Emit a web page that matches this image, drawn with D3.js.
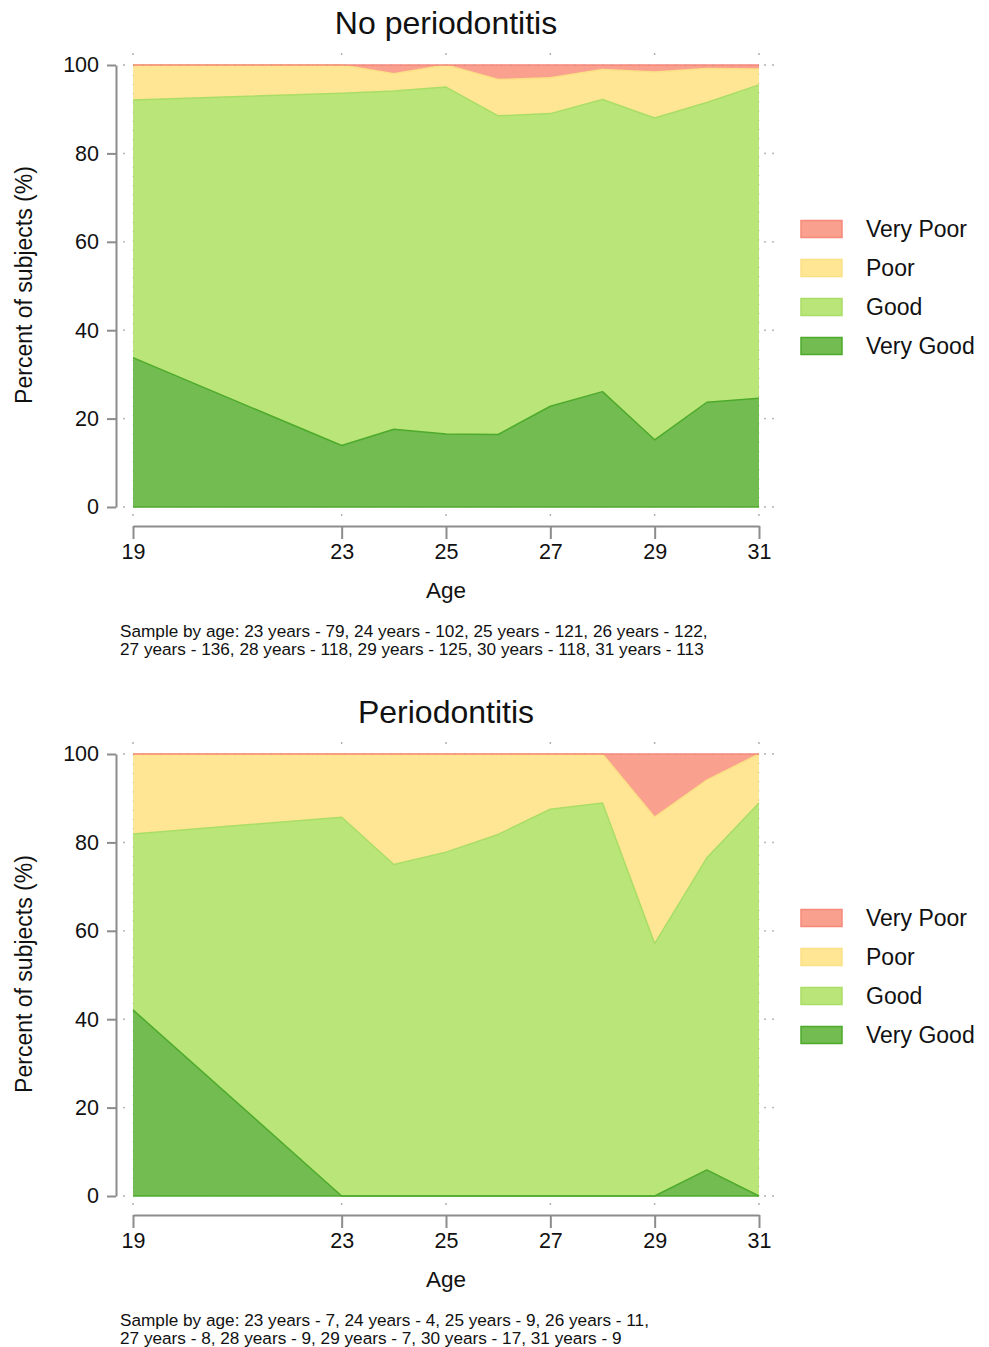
<!DOCTYPE html>
<html>
<head>
<meta charset="utf-8">
<script src="https://cdn.jsdelivr.net/npm/d3@7"></script>
<style>
  html, body { margin: 0; padding: 0; background: #fff; }
  svg { display: block; font-family: "Liberation Sans", Arial, Helvetica, sans-serif; }
</style>
</head>
<body>
<svg id="chart" width="989" height="1347"></svg>
<script>
// Self-rated oral health by age, percent of subjects in each category
const ages = [19, 23, 24, 25, 26, 27, 28, 29, 30, 31];
const ageTicks = [19, 23, 25, 27, 29, 31];
const pctTicks = [0, 20, 40, 60, 80, 100];
const categories = ["Very Good", "Good", "Poor", "Very Poor"];
const legendOrder = ["Very Poor", "Poor", "Good", "Very Good"];

// No periodontitis
const noPerioVeryGood = [33.8, 13.9, 17.6, 16.5, 16.4, 22.8, 26.1, 15.2, 23.7, 24.6];
const noPerioGood     = [58.3, 79.7, 76.5, 78.5, 72.1, 66.2, 66.1, 72.8, 67.8, 70.9];
const noPerioPoor     = [ 7.9,  6.4,  3.9,  5.0,  8.2,  8.1,  6.8, 10.4,  7.7,  3.6];
const noPerioVeryPoor = [ 0.0,  0.0,  2.0,  0.0,  3.3,  2.9,  1.0,  1.6,  0.8,  0.9];

// Periodontitis
const perioVeryGood = [42.1,  0.0,  0.0,  0.0,  0.0,  0.0,  0.0,  0.0,  5.9,  0.0];
const perioGood     = [39.8, 85.7, 75.0, 77.8, 81.8, 87.5, 88.9, 57.1, 70.6, 88.9];
const perioPoor     = [18.1, 14.3, 25.0, 22.2, 18.2, 12.5, 11.1, 28.6, 17.6, 11.1];
const perioVeryPoor = [ 0.0,  0.0,  0.0,  0.0,  0.0,  0.0,  0.0, 14.3,  5.9,  0.0];

const noPerioNote = [
  "Sample by age: 23 years - 79, 24 years - 102, 25 years - 121, 26 years - 122,",
  "27 years - 136, 28 years - 118, 29 years - 125, 30 years - 118, 31 years - 113"
];
const perioNote = [
  "Sample by age: 23 years - 7, 24 years - 4, 25 years - 9, 26 years - 11,",
  "27 years - 8, 28 years - 9, 29 years - 7, 30 years - 17, 31 years - 9"
];

const fillColor = {
  "Very Poor": "#f9a08e",
  "Poor": "#fee695",
  "Good": "#bae679",
  "Very Good": "#72bc52"
};
const lineColor = {
  "Very Poor": "#f6897a",
  "Poor": "#fbe085",
  "Good": "#a9dd66",
  "Very Good": "#4eaa2b"
};

const svg = d3.select("#chart");

function buildRows(vg, good, poor, vpoor) {
  return ages.map((a, i) => ({
    age: a,
    "Very Good": vg[i],
    "Good": good[i],
    "Poor": poor[i],
    "Very Poor": vpoor[i]
  }));
}

function drawPanel(offsetY, title, rows, note) {
  const g = svg.append("g").attr("transform", `translate(0,${offsetY})`);
  const left = 133, right = 759, top = 65, bottom = 507;

  const x = d3.scaleLinear().domain([19, 31]).range([left, right]);
  const y = d3.scaleLinear().domain([0, 100]).range([bottom, top]);

  const series = d3.stack().keys(categories)(rows);

  const area = d3.area()
    .x(d => x(d.data.age))
    .y0(d => y(d[0]))
    .y1(d => y(d[1]));
  const topLine = d3.line()
    .x(d => x(d.data.age))
    .y(d => y(d[1]));

  // filled bands
  g.selectAll("path.band").data(series).join("path")
    .attr("class", "band")
    .attr("d", area)
    .attr("fill", s => fillColor[s.key]);

  // band outlines along each upper edge
  g.append("line")
    .attr("x1", x(19)).attr("x2", x(31))
    .attr("y1", y(0)).attr("y2", y(0))
    .attr("stroke", lineColor["Very Good"]).attr("stroke-width", 1.5);
  g.selectAll("path.edge").data(series).join("path")
    .attr("class", "edge")
    .attr("d", topLine)
    .attr("fill", "none")
    .attr("stroke", s => lineColor[s.key])
    .attr("stroke-width", 1.5)
    .attr("stroke-linejoin", "round");

  // faint dotted plot-region frame
  g.append("rect")
    .attr("x", left).attr("y", top)
    .attr("width", right - left).attr("height", bottom - top)
    .attr("fill", "none")
    .attr("stroke", "#8a8a8a")
    .attr("stroke-opacity", 0.55)
    .attr("stroke-width", 0.8)
    .attr("stroke-dasharray", "1,8.2");

  // grid dots outside the plot region
  const dots = g.append("g").attr("fill", "#a8a8a8");
  ageTicks.forEach(t => {
    dots.append("circle").attr("cx", x(t)).attr("cy", top - 11).attr("r", 0.9);
    dots.append("circle").attr("cx", x(t)).attr("cy", bottom + 8).attr("r", 0.9);
  });
  pctTicks.forEach(t => {
    dots.append("circle").attr("cx", left - 9).attr("cy", y(t)).attr("r", 0.9);
    dots.append("circle").attr("cx", right + 6).attr("cy", y(t)).attr("r", 0.9);
    dots.append("circle").attr("cx", right + 14).attr("cy", y(t)).attr("r", 0.9);
  });

  // y axis, offset to the left of the plot
  const yAxis = d3.axisLeft(y).tickValues(pctTicks).tickSize(9).tickPadding(8).tickSizeOuter(0);
  const ya = g.append("g").attr("transform", `translate(116,0)`).call(yAxis);
  ya.select(".domain").attr("stroke", "#8c8c8c").attr("stroke-width", 2);
  ya.selectAll(".tick line").attr("stroke", "#8c8c8c").attr("stroke-width", 2);
  ya.selectAll(".tick text").attr("font-size", 21.5).attr("fill", "#111").attr("font-family", null);

  // x axis, offset below the plot
  const xAxis = d3.axisBottom(x).tickValues(ageTicks).tickSize(13).tickPadding(5).tickSizeOuter(0);
  const xa = g.append("g").attr("transform", `translate(0,${bottom + 19})`).call(xAxis);
  xa.select(".domain").attr("stroke", "#8c8c8c").attr("stroke-width", 2);
  xa.selectAll(".tick line").attr("stroke", "#8c8c8c").attr("stroke-width", 2);
  xa.selectAll(".tick text").attr("font-size", 21.5).attr("fill", "#111").attr("font-family", null);

  // titles
  g.append("text")
    .attr("x", 446).attr("y", 34)
    .attr("text-anchor", "middle")
    .attr("font-size", 32)
    .attr("fill", "#111")
    .text(title);
  g.append("text")
    .attr("x", 446).attr("y", 598)
    .attr("text-anchor", "middle")
    .attr("font-size", 22.5)
    .attr("fill", "#111")
    .text("Age");
  g.append("text")
    .attr("transform", `translate(32,${(top + bottom) / 2 - 1}) rotate(-90)`)
    .attr("text-anchor", "middle")
    .attr("font-size", 23)
    .attr("fill", "#111")
    .text("Percent of subjects (%)");

  // sample-size note
  g.selectAll("text.note").data(note).join("text")
    .attr("class", "note")
    .attr("x", 120)
    .attr("y", (d, i) => 637 + i * 17.5)
    .attr("font-size", 17.2)
    .attr("fill", "#111")
    .text(d => d);

  // legend
  const leg = g.append("g");
  legendOrder.forEach((k, i) => {
    const cy = 229 + i * 39;
    leg.append("rect")
      .attr("x", 801).attr("y", cy - 8.5)
      .attr("width", 41).attr("height", 17)
      .attr("fill", fillColor[k])
      .attr("stroke", lineColor[k]).attr("stroke-width", 1.5);
    leg.append("text")
      .attr("x", 866).attr("y", cy + 8)
      .attr("font-size", 23)
      .attr("fill", "#111")
      .text(k);
  });
}

drawPanel(0, "No periodontitis",
  buildRows(noPerioVeryGood, noPerioGood, noPerioPoor, noPerioVeryPoor), noPerioNote);
drawPanel(689, "Periodontitis",
  buildRows(perioVeryGood, perioGood, perioPoor, perioVeryPoor), perioNote);
</script>
</body>
</html>
